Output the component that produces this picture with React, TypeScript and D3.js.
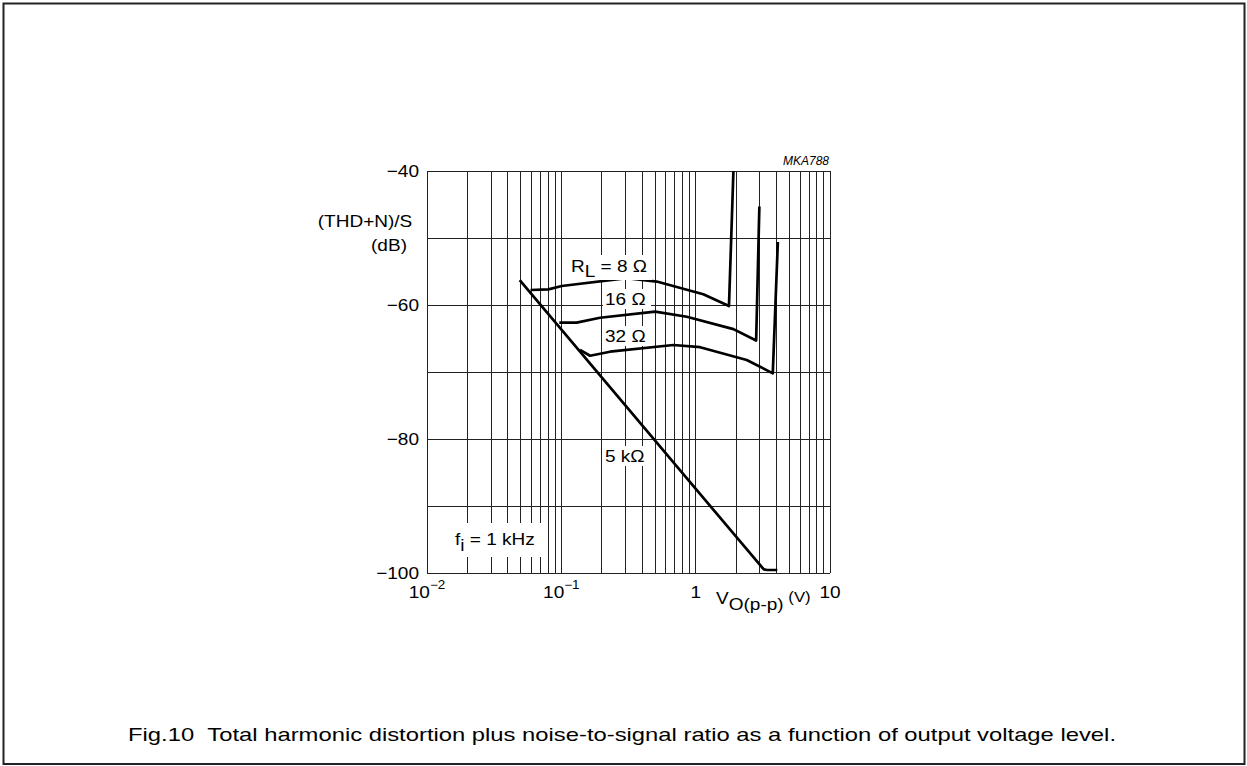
import React from "react";
import * as d3 from "d3";

const xDomain: [number, number] = [0.01, 10];
const yDomain: [number, number] = [-100, -40];
const yTickValues = [-100, -80, -60, -40];
const yGridValues = [-100, -90, -80, -70, -60, -50, -40];
const xTickLabels = [
  { v: 0.01, base: "10", exp: "\u22122" },
  { v: 0.1, base: "10", exp: "\u22121" },
  { v: 1, base: "1", exp: "" },
  { v: 10, base: "10", exp: "" },
];

const series8: [number, number][] = [
  [0.059, -57.76], [0.08, -57.66], [0.1007, -57.16], [0.307, -56.0], [0.513, -56.5],
  [1.14, -58.4], [1.77, -60.15], [1.91, -40],
];
const series16: [number, number][] = [
  [0.0966, -62.64], [0.13, -62.64], [0.194, -61.9], [0.499, -61.0], [0.859, -61.75],
  [1.91, -63.6], [2.82, -65.3], [2.98, -45.3],
];
const series32: [number, number][] = [
  [0.1377, -66.7], [0.1636, -67.57], [0.2305, -66.97], [0.682, -65.97], [1.079, -66.3],
  [2.4, -68.2], [3.75, -70.2], [4.09, -50.6],
];
const series5k: [number, number][] = [
  [0.049, -56.3], [3.1, -99.1], [3.22, -99.45], [3.4, -99.55], [4.05, -99.55],
];

const FONT = "'Liberation Sans', Arial, Helvetica, sans-serif";
const SX = 1.12;

function T({ x, y, anchor = "start", size = 17, children, style }: any) {
  return (
    <text
      transform={`translate(${x},${y}) scale(${SX},1)`}
      textAnchor={anchor}
      fontSize={size}
      fontFamily={FONT}
      fill="#000"
      style={style}
    >
      {children}
    </text>
  );
}

export default function App() {
  const W = 1247, H = 766;
  const x = d3.scaleLog().domain(xDomain).range([427, 830]);
  const y = d3.scaleLinear().domain(yDomain).range([573, 171]);
  const xGrid: number[] = [];
  for (let d = -2; d < 1; d++) {
    for (let m = 1; m <= 9; m++) xGrid.push(m * Math.pow(10, d));
  }
  xGrid.push(10);
  const line = d3.line<[number, number]>().x((d) => x(d[0])).y((d) => y(d[1]));
  const curves = [series8, series16, series32, series5k];

  return (
    <svg
      width={W}
      height={H}
      style={{ position: "absolute", left: 0, top: 0, background: "#fff" }}
    >
      <rect x={3.5} y={3.5} width={1241} height={760.5} fill="none" stroke="#222" strokeWidth={2} />
      <g stroke="#222" strokeWidth={1} shapeRendering="crispEdges">
        {xGrid.map((v, i) => (
          <line key={"vx" + i} x1={x(v)} x2={x(v)} y1={y(-40)} y2={y(-100)} />
        ))}
        {yGridValues.map((v, i) => (
          <line key={"hy" + i} x1={x(0.01)} x2={x(10)} y1={y(v)} y2={y(v)} />
        ))}
      </g>
      <g fill="none" stroke="#000" strokeWidth={2.7} strokeLinejoin="round">
        {curves.map((s, i) => (
          <path key={"c" + i} d={line(s) || ""} />
        ))}
      </g>
      <rect x={568} y={255} width={84} height={25} fill="#fff" />
      <T x={571} y={272}>
        R<tspan dy={5}>L</tspan><tspan dy={-5}> = 8 Ω</tspan>
      </T>
      <rect x={603} y={289} width={48} height={20} fill="#fff" />
      <T x={605} y={305}>16 Ω</T>
      <rect x={603} y={326} width={48} height={20} fill="#fff" />
      <T x={605} y={342}>32 Ω</T>
      <rect x={603} y={446} width={48} height={20} fill="#fff" />
      <T x={605} y={462}>5 kΩ</T>
      <rect x={452} y={523} width={90} height={34} fill="#fff" />
      <T x={455} y={545}>
        f<tspan dy={6}>i</tspan><tspan dy={-6}> = 1 kHz</tspan>
      </T>
      {yTickValues.map((v) => (
        <T key={"yt" + v} x={419} y={y(v) + 6} anchor="end">
          {v < 0 ? "\u2212" + Math.abs(v) : String(v)}
        </T>
      ))}
      <T x={365} y={227} anchor="middle">(THD+N)/S</T>
      <T x={389} y={251} anchor="middle">(dB)</T>
      {xTickLabels.map((t) => (
        <T key={"xt" + t.v} x={x(t.v)} y={598} anchor="middle">
          {t.base}
          {t.exp ? <tspan dy={-9} fontSize={12}>{t.exp}</tspan> : null}
        </T>
      ))}
      <T x={716} y={604}>
        V<tspan dy={6}>O(p-p)</tspan><tspan dy={-8} fontSize={15}> (V)</tspan>
      </T>
      <text x={829} y={165} textAnchor="end" fontSize={12} fontStyle="italic" fontFamily={FONT}>
        MKA788
      </text>
      <text
        x={128}
        y={741}
        fontSize={19}
        fontFamily={FONT}
        textLength={988}
        lengthAdjust="spacingAndGlyphs"
        style={{ whiteSpace: "pre" }}
      >
        {"Fig.10\u00a0\u00a0Total harmonic distortion plus noise-to-signal ratio as a function of output voltage level."}
      </text>
    </svg>
  );
}
